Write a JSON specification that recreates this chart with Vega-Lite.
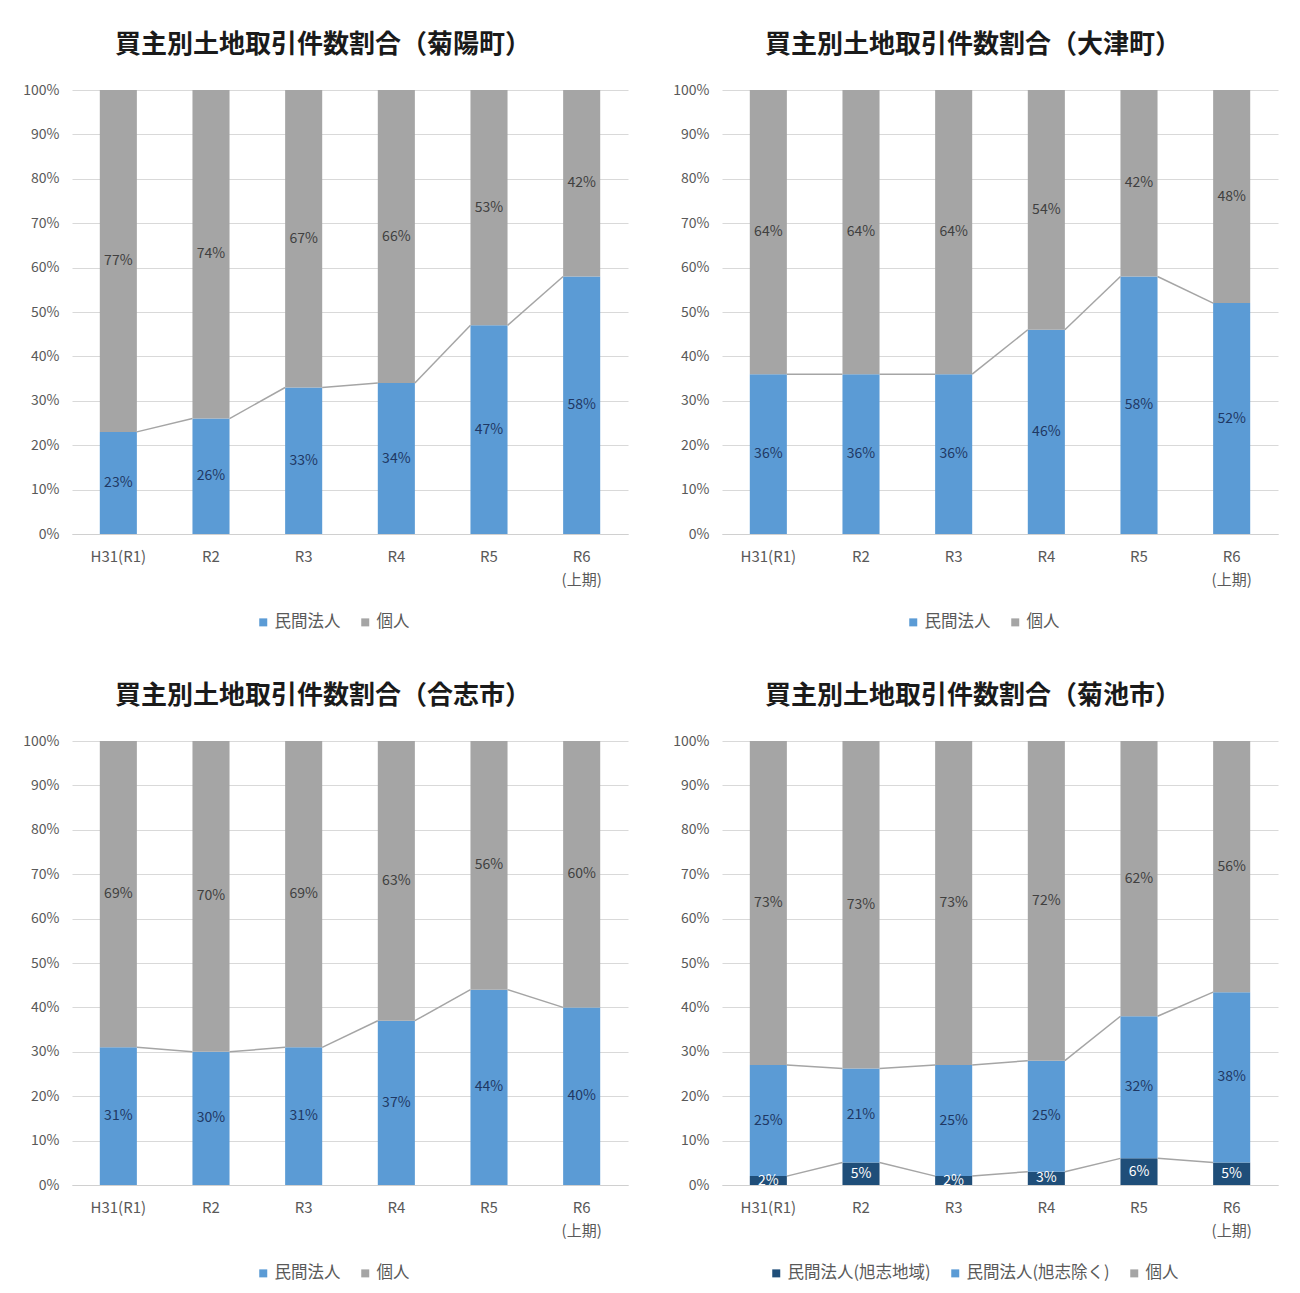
{
  "$schema": "https://vega.github.io/schema/vega-lite/v6.json",
  "background": "white",
  "padding": {"left": 22, "top": 32, "right": 5, "bottom": 5},
  "datasets": {
    "rows": [
      {"region": "菊陽町", "year": "H31(R1)", "yi": 0, "seg": "民間法人", "ord": 1, "value": 0.23},
      {"region": "菊陽町", "year": "H31(R1)", "yi": 0, "seg": "個人", "ord": 2, "value": 0.77},
      {"region": "菊陽町", "year": "R2", "yi": 1, "seg": "民間法人", "ord": 1, "value": 0.26},
      {"region": "菊陽町", "year": "R2", "yi": 1, "seg": "個人", "ord": 2, "value": 0.74},
      {"region": "菊陽町", "year": "R3", "yi": 2, "seg": "民間法人", "ord": 1, "value": 0.33},
      {"region": "菊陽町", "year": "R3", "yi": 2, "seg": "個人", "ord": 2, "value": 0.67},
      {"region": "菊陽町", "year": "R4", "yi": 3, "seg": "民間法人", "ord": 1, "value": 0.34},
      {"region": "菊陽町", "year": "R4", "yi": 3, "seg": "個人", "ord": 2, "value": 0.66},
      {"region": "菊陽町", "year": "R5", "yi": 4, "seg": "民間法人", "ord": 1, "value": 0.47},
      {"region": "菊陽町", "year": "R5", "yi": 4, "seg": "個人", "ord": 2, "value": 0.53},
      {"region": "菊陽町", "year": "R6 (上期)", "yi": 5, "seg": "民間法人", "ord": 1, "value": 0.58},
      {"region": "菊陽町", "year": "R6 (上期)", "yi": 5, "seg": "個人", "ord": 2, "value": 0.42},

      {"region": "大津町", "year": "H31(R1)", "yi": 0, "seg": "民間法人", "ord": 1, "value": 0.36},
      {"region": "大津町", "year": "H31(R1)", "yi": 0, "seg": "個人", "ord": 2, "value": 0.64},
      {"region": "大津町", "year": "R2", "yi": 1, "seg": "民間法人", "ord": 1, "value": 0.36},
      {"region": "大津町", "year": "R2", "yi": 1, "seg": "個人", "ord": 2, "value": 0.64},
      {"region": "大津町", "year": "R3", "yi": 2, "seg": "民間法人", "ord": 1, "value": 0.36},
      {"region": "大津町", "year": "R3", "yi": 2, "seg": "個人", "ord": 2, "value": 0.64},
      {"region": "大津町", "year": "R4", "yi": 3, "seg": "民間法人", "ord": 1, "value": 0.46},
      {"region": "大津町", "year": "R4", "yi": 3, "seg": "個人", "ord": 2, "value": 0.54},
      {"region": "大津町", "year": "R5", "yi": 4, "seg": "民間法人", "ord": 1, "value": 0.58},
      {"region": "大津町", "year": "R5", "yi": 4, "seg": "個人", "ord": 2, "value": 0.42},
      {"region": "大津町", "year": "R6 (上期)", "yi": 5, "seg": "民間法人", "ord": 1, "value": 0.52},
      {"region": "大津町", "year": "R6 (上期)", "yi": 5, "seg": "個人", "ord": 2, "value": 0.48},

      {"region": "合志市", "year": "H31(R1)", "yi": 0, "seg": "民間法人", "ord": 1, "value": 0.31},
      {"region": "合志市", "year": "H31(R1)", "yi": 0, "seg": "個人", "ord": 2, "value": 0.69},
      {"region": "合志市", "year": "R2", "yi": 1, "seg": "民間法人", "ord": 1, "value": 0.30},
      {"region": "合志市", "year": "R2", "yi": 1, "seg": "個人", "ord": 2, "value": 0.70},
      {"region": "合志市", "year": "R3", "yi": 2, "seg": "民間法人", "ord": 1, "value": 0.31},
      {"region": "合志市", "year": "R3", "yi": 2, "seg": "個人", "ord": 2, "value": 0.69},
      {"region": "合志市", "year": "R4", "yi": 3, "seg": "民間法人", "ord": 1, "value": 0.37},
      {"region": "合志市", "year": "R4", "yi": 3, "seg": "個人", "ord": 2, "value": 0.63},
      {"region": "合志市", "year": "R5", "yi": 4, "seg": "民間法人", "ord": 1, "value": 0.44},
      {"region": "合志市", "year": "R5", "yi": 4, "seg": "個人", "ord": 2, "value": 0.56},
      {"region": "合志市", "year": "R6 (上期)", "yi": 5, "seg": "民間法人", "ord": 1, "value": 0.40},
      {"region": "合志市", "year": "R6 (上期)", "yi": 5, "seg": "個人", "ord": 2, "value": 0.60},

      {"region": "菊池市", "year": "H31(R1)", "yi": 0, "seg": "民間法人(旭志地域)", "ord": 0, "value": 0.02},
      {"region": "菊池市", "year": "H31(R1)", "yi": 0, "seg": "民間法人(旭志除く)", "ord": 1, "value": 0.25},
      {"region": "菊池市", "year": "H31(R1)", "yi": 0, "seg": "個人", "ord": 2, "value": 0.73},
      {"region": "菊池市", "year": "R2", "yi": 1, "seg": "民間法人(旭志地域)", "ord": 0, "value": 0.05},
      {"region": "菊池市", "year": "R2", "yi": 1, "seg": "民間法人(旭志除く)", "ord": 1, "value": 0.21},
      {"region": "菊池市", "year": "R2", "yi": 1, "seg": "個人", "ord": 2, "value": 0.73},
      {"region": "菊池市", "year": "R3", "yi": 2, "seg": "民間法人(旭志地域)", "ord": 0, "value": 0.02},
      {"region": "菊池市", "year": "R3", "yi": 2, "seg": "民間法人(旭志除く)", "ord": 1, "value": 0.25},
      {"region": "菊池市", "year": "R3", "yi": 2, "seg": "個人", "ord": 2, "value": 0.73},
      {"region": "菊池市", "year": "R4", "yi": 3, "seg": "民間法人(旭志地域)", "ord": 0, "value": 0.03},
      {"region": "菊池市", "year": "R4", "yi": 3, "seg": "民間法人(旭志除く)", "ord": 1, "value": 0.25},
      {"region": "菊池市", "year": "R4", "yi": 3, "seg": "個人", "ord": 2, "value": 0.72},
      {"region": "菊池市", "year": "R5", "yi": 4, "seg": "民間法人(旭志地域)", "ord": 0, "value": 0.06},
      {"region": "菊池市", "year": "R5", "yi": 4, "seg": "民間法人(旭志除く)", "ord": 1, "value": 0.32},
      {"region": "菊池市", "year": "R5", "yi": 4, "seg": "個人", "ord": 2, "value": 0.62},
      {"region": "菊池市", "year": "R6 (上期)", "yi": 5, "seg": "民間法人(旭志地域)", "ord": 0, "value": 0.05},
      {"region": "菊池市", "year": "R6 (上期)", "yi": 5, "seg": "民間法人(旭志除く)", "ord": 1, "value": 0.38},
      {"region": "菊池市", "year": "R6 (上期)", "yi": 5, "seg": "個人", "ord": 2, "value": 0.56}
    ]
  },
  "data": {"name": "rows"},
  "spacing": 651,
  "bounds": "flush",
  "vconcat": [
    {
      "hconcat": [
        {
          "width": 556, "height": 444,
          "title": "買主別土地取引件数割合（菊陽町）",
          "transform": [
            {"filter": "datum.region == '菊陽町'"},
            {"stack": "value", "groupby": ["year"], "sort": [{"field": "ord"}], "as": ["y0", "y1"], "offset": "normalize"},
            {"calculate": "(datum.y0 + datum.y1) / 2", "as": "ymid"}
          ],
          "layer": [
            {
              "mark": {"type": "bar"},
              "encoding": {
                "x": {"field": "year", "type": "nominal", "sort": {"field": "yi"}, "scale": {"paddingInner": 0.6, "paddingOuter": 0.3}},
                "y": {"field": "y0", "type": "quantitative", "scale": {"domain": [0, 1]}},
                "y2": {"field": "y1"},
                "color": {"field": "seg", "type": "nominal",
                  "scale": {"domain": ["民間法人", "個人"], "range": ["#5b9bd5", "#a5a5a5"]},
                  "legend": {"orient": "none", "legendX": 183, "legendY": 524, "direction": "horizontal", "title": null}}
              }
            },
            {
              "transform": [
                {"filter": "datum.seg != '個人'"},
                {"window": [{"op": "lead", "field": "year", "as": "nx"}, {"op": "lead", "field": "y1", "as": "ny"}], "groupby": ["seg"], "sort": [{"field": "yi"}]},
                {"filter": "datum.nx != null"}
              ],
              "mark": {"type": "rule", "color": "#a5a5a5", "strokeWidth": 1.5},
              "encoding": {
                "x": {"field": "year", "type": "nominal", "sort": {"field": "yi"}, "bandPosition": 1},
                "x2": {"field": "nx", "bandPosition": 0},
                "y": {"field": "y1", "type": "quantitative"},
                "y2": {"field": "ny"}
              }
            },
            {
              "mark": {"type": "text", "fontSize": 14},
              "encoding": {
                "x": {"field": "year", "type": "nominal", "sort": {"field": "yi"}},
                "y": {"field": "ymid", "type": "quantitative"},
                "text": {"field": "value", "format": ".0%"},
                "color": {"condition": [{"test": "datum.seg == '民間法人(旭志地域)'", "value": "white"}, {"test": "datum.seg == '個人'", "value": "#404040"}], "value": "#1f3864"}
              }
            }
          ]
        },
        {
          "width": 556, "height": 444,
          "title": "買主別土地取引件数割合（大津町）",
          "transform": [
            {"filter": "datum.region == '大津町'"},
            {"stack": "value", "groupby": ["year"], "sort": [{"field": "ord"}], "as": ["y0", "y1"], "offset": "normalize"},
            {"calculate": "(datum.y0 + datum.y1) / 2", "as": "ymid"}
          ],
          "layer": [
            {
              "mark": {"type": "bar"},
              "encoding": {
                "x": {"field": "year", "type": "nominal", "sort": {"field": "yi"}, "scale": {"paddingInner": 0.6, "paddingOuter": 0.3}},
                "y": {"field": "y0", "type": "quantitative", "scale": {"domain": [0, 1]}},
                "y2": {"field": "y1"},
                "color": {"field": "seg", "type": "nominal",
                  "scale": {"domain": ["民間法人", "個人"], "range": ["#5b9bd5", "#a5a5a5"]},
                  "legend": {"orient": "none", "legendX": 183, "legendY": 524, "direction": "horizontal", "title": null}}
              }
            },
            {
              "transform": [
                {"filter": "datum.seg != '個人'"},
                {"window": [{"op": "lead", "field": "year", "as": "nx"}, {"op": "lead", "field": "y1", "as": "ny"}], "groupby": ["seg"], "sort": [{"field": "yi"}]},
                {"filter": "datum.nx != null"}
              ],
              "mark": {"type": "rule", "color": "#a5a5a5", "strokeWidth": 1.5},
              "encoding": {
                "x": {"field": "year", "type": "nominal", "sort": {"field": "yi"}, "bandPosition": 1},
                "x2": {"field": "nx", "bandPosition": 0},
                "y": {"field": "y1", "type": "quantitative"},
                "y2": {"field": "ny"}
              }
            },
            {
              "mark": {"type": "text", "fontSize": 14},
              "encoding": {
                "x": {"field": "year", "type": "nominal", "sort": {"field": "yi"}},
                "y": {"field": "ymid", "type": "quantitative"},
                "text": {"field": "value", "format": ".0%"},
                "color": {"condition": [{"test": "datum.seg == '民間法人(旭志地域)'", "value": "white"}, {"test": "datum.seg == '個人'", "value": "#404040"}], "value": "#1f3864"}
              }
            }
          ]
        }
      ],
      "spacing": 94,
      "bounds": "flush",
      "resolve": {"scale": {"color": "independent", "x": "independent", "y": "independent"}, "legend": {"color": "independent"}}
    },
    {
      "hconcat": [
        {
          "width": 556, "height": 444,
          "title": "買主別土地取引件数割合（合志市）",
          "transform": [
            {"filter": "datum.region == '合志市'"},
            {"stack": "value", "groupby": ["year"], "sort": [{"field": "ord"}], "as": ["y0", "y1"], "offset": "normalize"},
            {"calculate": "(datum.y0 + datum.y1) / 2", "as": "ymid"}
          ],
          "layer": [
            {
              "mark": {"type": "bar"},
              "encoding": {
                "x": {"field": "year", "type": "nominal", "sort": {"field": "yi"}, "scale": {"paddingInner": 0.6, "paddingOuter": 0.3}},
                "y": {"field": "y0", "type": "quantitative", "scale": {"domain": [0, 1]}},
                "y2": {"field": "y1"},
                "color": {"field": "seg", "type": "nominal",
                  "scale": {"domain": ["民間法人", "個人"], "range": ["#5b9bd5", "#a5a5a5"]},
                  "legend": {"orient": "none", "legendX": 183, "legendY": 524, "direction": "horizontal", "title": null}}
              }
            },
            {
              "transform": [
                {"filter": "datum.seg != '個人'"},
                {"window": [{"op": "lead", "field": "year", "as": "nx"}, {"op": "lead", "field": "y1", "as": "ny"}], "groupby": ["seg"], "sort": [{"field": "yi"}]},
                {"filter": "datum.nx != null"}
              ],
              "mark": {"type": "rule", "color": "#a5a5a5", "strokeWidth": 1.5},
              "encoding": {
                "x": {"field": "year", "type": "nominal", "sort": {"field": "yi"}, "bandPosition": 1},
                "x2": {"field": "nx", "bandPosition": 0},
                "y": {"field": "y1", "type": "quantitative"},
                "y2": {"field": "ny"}
              }
            },
            {
              "mark": {"type": "text", "fontSize": 14},
              "encoding": {
                "x": {"field": "year", "type": "nominal", "sort": {"field": "yi"}},
                "y": {"field": "ymid", "type": "quantitative"},
                "text": {"field": "value", "format": ".0%"},
                "color": {"condition": [{"test": "datum.seg == '民間法人(旭志地域)'", "value": "white"}, {"test": "datum.seg == '個人'", "value": "#404040"}], "value": "#1f3864"}
              }
            }
          ]
        },
        {
          "width": 556, "height": 444,
          "title": "買主別土地取引件数割合（菊池市）",
          "transform": [
            {"filter": "datum.region == '菊池市'"},
            {"stack": "value", "groupby": ["year"], "sort": [{"field": "ord"}], "as": ["y0", "y1"], "offset": "normalize"},
            {"calculate": "(datum.y0 + datum.y1) / 2", "as": "ymid"}
          ],
          "layer": [
            {
              "mark": {"type": "bar"},
              "encoding": {
                "x": {"field": "year", "type": "nominal", "sort": {"field": "yi"}, "scale": {"paddingInner": 0.6, "paddingOuter": 0.3}},
                "y": {"field": "y0", "type": "quantitative", "scale": {"domain": [0, 1]}},
                "y2": {"field": "y1"},
                "color": {"field": "seg", "type": "nominal",
                  "scale": {"domain": ["民間法人(旭志地域)", "民間法人(旭志除く)", "個人"], "range": ["#1f4e79", "#5b9bd5", "#a5a5a5"]},
                  "legend": {"orient": "none", "legendX": 46, "legendY": 524, "direction": "horizontal", "title": null}}
              }
            },
            {
              "transform": [
                {"filter": "datum.seg != '個人'"},
                {"window": [{"op": "lead", "field": "year", "as": "nx"}, {"op": "lead", "field": "y1", "as": "ny"}], "groupby": ["seg"], "sort": [{"field": "yi"}]},
                {"filter": "datum.nx != null"}
              ],
              "mark": {"type": "rule", "color": "#a5a5a5", "strokeWidth": 1.5},
              "encoding": {
                "x": {"field": "year", "type": "nominal", "sort": {"field": "yi"}, "bandPosition": 1},
                "x2": {"field": "nx", "bandPosition": 0},
                "y": {"field": "y1", "type": "quantitative"},
                "y2": {"field": "ny"}
              }
            },
            {
              "mark": {"type": "text", "fontSize": 14},
              "encoding": {
                "x": {"field": "year", "type": "nominal", "sort": {"field": "yi"}},
                "y": {"field": "ymid", "type": "quantitative"},
                "text": {"field": "value", "format": ".0%"},
                "color": {"condition": [{"test": "datum.seg == '民間法人(旭志地域)'", "value": "white"}, {"test": "datum.seg == '個人'", "value": "#404040"}], "value": "#1f3864"}
              }
            }
          ]
        }
      ],
      "spacing": 94,
      "bounds": "flush",
      "resolve": {"scale": {"color": "independent", "x": "independent", "y": "independent"}, "legend": {"color": "independent"}}
    }
  ],
  "resolve": {"scale": {"color": "independent", "x": "independent", "y": "independent"}, "legend": {"color": "independent"}},
  "config": {
    "font": "Noto Sans CJK JP",
    "view": {"stroke": null},
    "title": {"font": "Noto Sans CJK JP", "fontSize": 26, "fontWeight": "bold", "color": "#1a1a1a", "anchor": "middle", "offset": 25, "dx": -27},
    "axisX": {"title": null, "labelAngle": 0, "ticks": false, "grid": false, "domainColor": "#d0d0d0", "domainWidth": 1.2, "labelPadding": 15, "labelFontSize": 15, "labelColor": "#595959", "labelLineHeight": 23, "labelExpr": "split(datum.value, ' ')"},
    "axisY": {"title": null, "format": ".0%", "tickCount": 10, "ticks": false, "domain": false, "grid": true, "gridColor": "#d9d9d9", "labelPadding": 13, "labelFontSize": 14, "labelColor": "#595959"},
    "legend": {"labelFontSize": 16.5, "labelColor": "#595959", "symbolType": "square", "symbolSize": 64, "symbolStrokeWidth": 0, "columnPadding": 16, "labelOffset": 3}
  }
}
